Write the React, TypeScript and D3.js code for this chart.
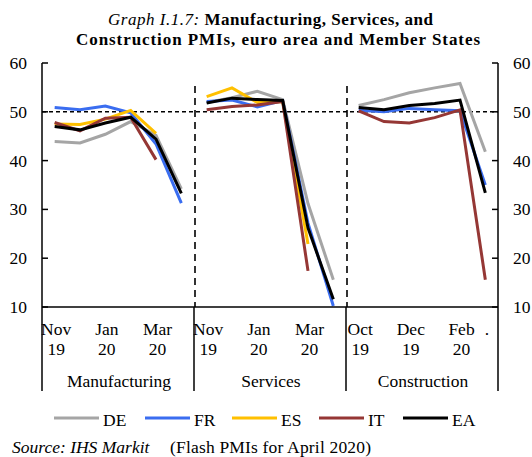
import React from "react";
import * as d3 from "d3";

const panels = ["Manufacturing", "Services", "Construction"];
const tickTop = ["Nov", "", "Jan", "", "Mar", "", "Nov", "", "Jan", "", "Mar", "", "Oct", "", "Dec", "", "Feb", "."];
const tickBottom = ["19", "", "20", "", "20", "", "19", "", "20", "", "20", "", "19", "", "19", "", "20", ""];
const yTicks = [60, 50, 40, 30, 20, 10];

// values per panel: Manufacturing (Nov19-Apr20), Services (Nov19-Apr20), Construction (Oct19-Mar20)
const DE = [
  [43.9, 43.6, 45.4, 48.0, 45.2, 34.2],
  [51.9, 52.9, 54.2, 52.5, 31.2, 15.6],
  [51.3, 52.5, 53.9, 54.9, 55.8, 41.8],
];
const FR = [
  [50.9, 50.4, 51.2, 49.8, 43.4, 31.3],
  [52.1, 52.4, 51.0, 52.3, 27.2, 10.2],
  [50.3, 50.0, 50.7, 50.4, 50.2, 35.0],
];
const ES = [
  [47.5, 47.4, 48.5, 50.3, 45.6, null],
  [53.1, 54.9, 51.9, 52.1, 22.9, null],
  [null, null, null, null, null, null],
];
const IT = [
  [47.8, 46.1, 48.7, 48.9, 40.2, null],
  [50.4, 51.1, 51.4, 52.1, 17.4, null],
  [50.2, 48.0, 47.7, 48.8, 50.4, 15.6],
];
const EA = [
  [47.0, 46.3, 47.7, 48.9, 44.4, 33.3],
  [51.8, 52.8, 52.5, 52.3, 26.2, 11.6],
  [50.9, 50.4, 51.3, 51.7, 52.4, 33.4],
];

const seriesNames = ["DE", "FR", "ES", "IT", "EA"];
const seriesData = [DE, FR, ES, IT, EA];
const seriesColors = ["#a5a5a5", "#3a6df0", "#ffc000", "#953735", "#000000"];

const legendLineX = [54, 145, 232, 319, 403];

export default function App() {
  const W = 532, H = 457;
  const left = 42, right = 498, top = 63, bottom = 307;
  const nPer = 6;
  const n = panels.length * nPer;
  const x = d3.scaleBand<number>().domain(d3.range(n)).range([left, right]).paddingInner(0).paddingOuter(0);
  const cx = (i: number) => (x(i) as number) + x.bandwidth() / 2;
  const y = d3.scaleLinear().domain([10, 60]).range([bottom, top]);
  const panelW = (right - left) / panels.length;
  const font = "'Liberation Serif', 'Times New Roman', serif";
  const fs = 17.5;

  const line = d3
    .line<[number, number | null]>()
    .defined((d) => d[1] != null)
    .x((d) => cx(d[0]))
    .y((d) => y(d[1] as number));

  return (
    <svg width={W} height={H} style={{ position: "absolute", left: 0, top: 0, background: "#fff" }} fontFamily={font}>
      <rect x={0} y={0} width={W} height={H} fill="#fff" />
      {/* title */}
      <text x={108} y={25} fontSize={17} textLength={325} lengthAdjust="spacing">
        <tspan fontStyle="italic">Graph I.1.7:</tspan>
        <tspan fontWeight="bold"> Manufacturing, Services, and</tspan>
      </text>
      <text x={76} y={45} fontSize={17} fontWeight="bold" textLength={404} lengthAdjust="spacing">
        Construction PMIs, euro area and Member States
      </text>

      {/* 50 dashed reference */}
      <line x1={left} x2={right} y1={y(50)} y2={y(50)} stroke="#000" strokeWidth={1.5} strokeDasharray="4,3" />

      {/* panel dashed separators */}
      {[1, 2].map((k) => (
        <line key={k} x1={left + k * panelW + 1} x2={left + k * panelW + 1} y1={y(55.3)} y2={bottom} stroke="#000" strokeWidth={1.6} strokeDasharray="7,5" />
      ))}

      {/* series */}
      {seriesData.map((s, si) =>
        s.map((vals, pi) => {
          const pts: [number, number | null][] = vals.map((v, j) => [pi * nPer + j, v]);
          const d = line(pts);
          return d ? (
            <path key={`${si}-${pi}`} d={d} fill="none" stroke={seriesColors[si]} strokeWidth={3} strokeLinejoin="miter" />
          ) : null;
        })
      )}

      {/* axes */}
      <line x1={left} x2={left} y1={top} y2={bottom} stroke="#000" strokeWidth={1.5} />
      <line x1={right} x2={right} y1={top} y2={bottom} stroke="#000" strokeWidth={1.5} />
      <line x1={left} x2={right} y1={bottom} y2={bottom} stroke="#000" strokeWidth={1.5} />
      {yTicks.map((t) => (
        <g key={t}>
          <line x1={left} x2={left + 6} y1={y(t)} y2={y(t)} stroke="#000" strokeWidth={1.5} />
          <line x1={right - 6} x2={right} y1={y(t)} y2={y(t)} stroke="#000" strokeWidth={1.5} />
          <text x={27} y={y(t) + 6} fontSize={fs} textAnchor="end">{t}</text>
          <text x={513} y={y(t) + 6} fontSize={fs} textAnchor="start">{t}</text>
        </g>
      ))}

      {/* x tick labels */}
      {tickTop.map((t, i) => (
        <g key={i}>
          <text x={cx(i) + 1.5} y={335} fontSize={fs} textAnchor="middle">{t}</text>
          <text x={cx(i) + 1.5} y={355} fontSize={fs} textAnchor="middle">{tickBottom[i]}</text>
        </g>
      ))}

      {/* group separators and labels */}
      {[0, 1, 2, 3].map((k) => (
        <line key={k} x1={left + k * panelW} x2={left + k * panelW} y1={bottom} y2={391} stroke="#000" strokeWidth={1.5} />
      ))}
      {panels.map((p, k) => (
        <text key={p} x={left + (k + 0.5) * panelW + 1} y={387} fontSize={fs} textAnchor="middle">{p}</text>
      ))}

      {/* legend */}
      {seriesNames.map((nm, i) => (
        <g key={nm}>
          <line x1={legendLineX[i]} x2={legendLineX[i] + 45} y1={418} y2={418} stroke={seriesColors[i]} strokeWidth={3} />
          <text x={legendLineX[i] + 49} y={426} fontSize={fs}>{nm}</text>
        </g>
      ))}

      {/* source */}
      <text x={12} y={453} fontSize={fs}>
        <tspan fontStyle="italic">Source: IHS Markit</tspan>
      </text>
      <text x={170} y={453} fontSize={fs} textLength={201} lengthAdjust="spacing">(Flash PMIs for April 2020)</text>
    </svg>
  );
}
